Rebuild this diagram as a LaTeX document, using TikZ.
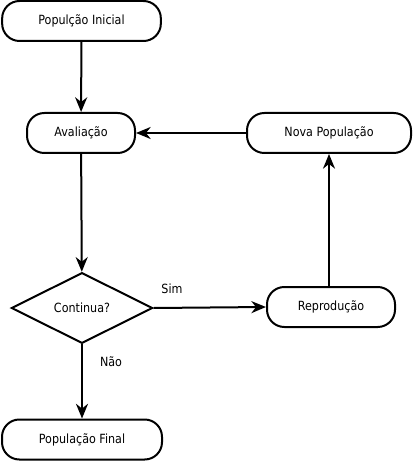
\documentclass[tikz,border=0pt]{standalone}
\usepackage{fontspec}
\setmainfont{DejaVu Sans}[FakeStretch=0.88]
\usetikzlibrary{shapes.geometric,arrows.meta}

\tikzset{
  etapa/.style={draw, line width=1.5pt, rounded corners=13pt, minimum height=30pt, inner sep=2pt, font=\fontsize{9.5}{11}\selectfont},
  decisao/.style={draw, diamond, line width=1.5pt, inner sep=0pt, minimum width=106pt, minimum height=53pt, font=\fontsize{9.5}{11}\selectfont},
  fluxo/.style={line width=1.5pt, -{Stealth[length=11pt, width=9pt, inset=3.5pt]}}
}

\begin{document}
\begin{tikzpicture}[x=0.75pt,y=0.75pt,yscale=-1,xscale=1]

\useasboundingbox (0,0) rectangle (414,463);

\node [etapa, minimum width=119pt] (inicial) at (81.5, 21) {Populção Inicial};
\node [etapa, minimum width=81pt] (avaliacao) at (81, 133) {Avaliação};
\node [etapa, minimum width=123pt] (nova) at (329, 133) {Nova População};
\node [decisao] (continua) at (82, 308) {Continua?};
\node [etapa, minimum width=96pt] (reproducao) at (331, 307) {Reprodução};
\node [etapa, minimum width=120pt] (final) at (82, 439.5) {População Final};

\draw [fluxo] (inicial) -- (avaliacao);
\draw [fluxo] (avaliacao) -- (continua);
\draw [fluxo] (continua.east) -- (reproducao.west);
\draw [fluxo] (reproducao.north -| nova) -- (nova.south);
\draw [fluxo] (nova) -- (avaliacao);
\draw [fluxo] (continua) -- (final);

\node [font=\fontsize{9.5}{11}\selectfont] (sim) at (172, 289) {Sim};
\node [font=\fontsize{9.5}{11}\selectfont] (nao) at (111, 362) {Não};

\end{tikzpicture}
\end{document}
